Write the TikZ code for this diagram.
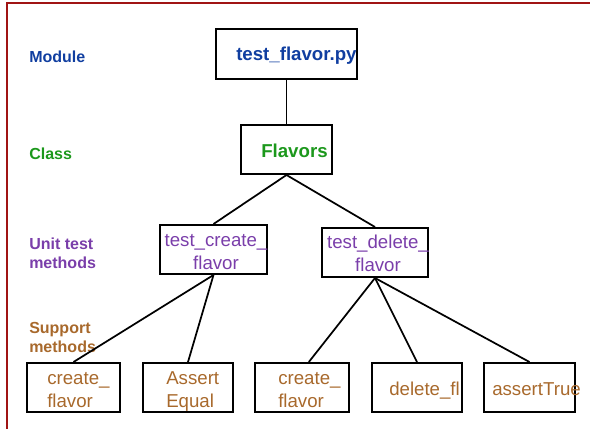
\documentclass[tikz,border=0pt]{standalone}
\usepackage{fontspec}
\setmainfont{Liberation Sans}
\usepackage{tikz}
\pgfdeclarelayer{background}
\pgfdeclarelayer{foreground}
\pgfsetlayers{background,main,foreground}

\definecolor{modblue}{RGB}{16,62,160}
\definecolor{clsgreen}{RGB}{28,152,28}
\definecolor{utpurple}{RGB}{122,62,170}
\definecolor{supbrown}{RGB}{168,105,44}
\definecolor{framered}{RGB}{160,20,20}

\tikzset{
  box/.style={draw, line width=1.5pt, inner sep=0pt, minimum height=36.75pt},
  link/.style={line width=1.3pt},
  boxtext/.style={inner sep=0pt, font=\fontsize{14}{17.25}\selectfont},
  level/.style={inner sep=0pt, align=left, anchor=base west, font=\fontsize{12}{14.25}\selectfont\bfseries},
}

\begin{document}
\begin{tikzpicture}[x=0.75pt,y=-0.75pt]
\useasboundingbox (0,0) rectangle (590,429);
\begin{pgfonlayer}{background}
\draw[framered, line width=0.9pt] (7,429) -- (7,3) -- (590,3);
\end{pgfonlayer}

\node[level, modblue] (lmod) at (29,62) {Module};
\node[level, clsgreen] (lcls) at (29,159) {Class};
\node[level, utpurple] (lut) at (29,268) {Unit test\\methods};
\node[level, supbrown] (lsup) at (29,352) {Support\\methods};

\node[box, minimum width=105.75pt, minimum height=37.5pt] (mod) at (286.5,54) {};
\node[box, minimum width=68.25pt] (cls) at (286.5,149.5) {};
\node[box, minimum width=80.25pt] (tc) at (213.5,249.5) {};
\node[box, minimum width=79.5pt] (td) at (375,252.5) {};
\node[box, minimum width=69.75pt] (s1) at (73.5,387.5) {};
\node[box, minimum width=67.5pt] (s2) at (188,387.5) {};
\node[box, minimum width=70.5pt] (s3) at (302,387.5) {};
\node[box, minimum width=67.5pt] (s4) at (417,387.5) {};
\node[box, minimum width=68.25pt] (s5) at (529.5,387.5) {};

\begin{pgfonlayer}{foreground}
\node[boxtext, modblue, font=\fontsize{14}{17.25}\selectfont\bfseries, anchor=base west] (tmod) at (236,60) {test\_flavor.py};
\node[boxtext, clsgreen, font=\fontsize{14}{17.25}\selectfont\bfseries, anchor=base west] (tcls) at (261,157) {Flavors};
\node[boxtext, utpurple, align=center, anchor=base] (ttc) at (216,269) {test\_create\_\\flavor};
\node[boxtext, utpurple, align=center, anchor=base] (ttd) at (378,271) {test\_delete\_\\flavor};
\node[boxtext, supbrown, align=left, anchor=base west] (ts1) at (47,407) {create\_\\flavor};
\node[boxtext, supbrown, align=left, anchor=base west] (ts2) at (166,407) {Assert\\Equal};
\node[boxtext, supbrown, align=left, anchor=base west] (ts3) at (278,407) {create\_\\flavor};
\node[boxtext, supbrown, anchor=base west] (ts4) at (389,395) {delete\_fl};
\node[boxtext, supbrown, anchor=base west] (ts5) at (492,395) {assertTrue};
\end{pgfonlayer}

\draw[link] (mod.south) -- (cls.north);
\draw[link] (cls.south) -- (tc.north);
\draw[link] (cls.south) -- (td.north);
\draw[link] (tc.south) -- (s1.north);
\draw[link] (tc.south) -- (s2.north);
\draw[link] (td.south) -- (s3.75);
\draw[link] (td.south) -- (s4.north);
\draw[link] (td.south) -- (s5.north);
\end{tikzpicture}
\end{document}
